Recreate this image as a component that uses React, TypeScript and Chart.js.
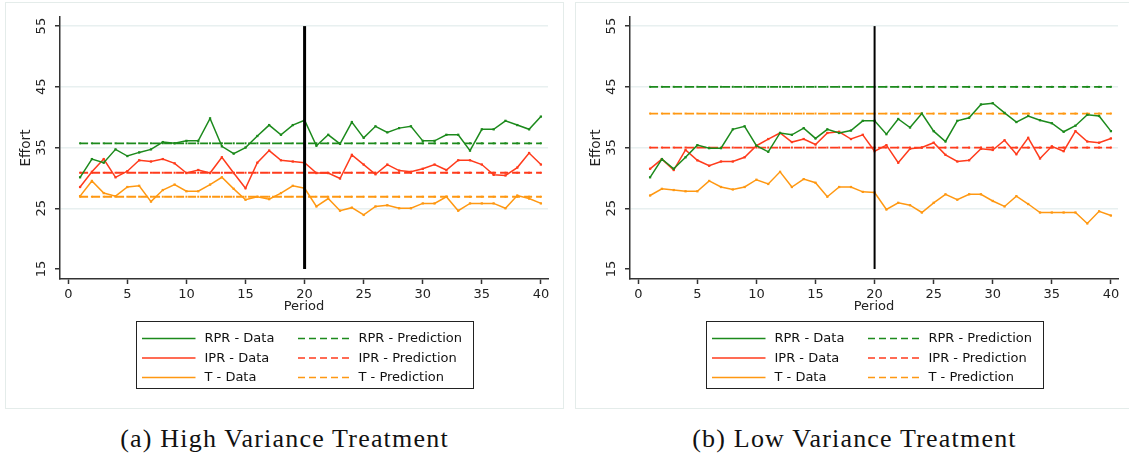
import React, { useEffect, useRef } from 'react';
import { Chart, registerables } from 'chart.js';

Chart.register(...registerables);

// ---------- data ----------
const PERIODS = [1, 2, 3, 4, 5, 6, 7, 8, 9, 10, 11, 12, 13, 14, 15, 16, 17, 18, 19, 20,
  21, 22, 23, 24, 25, 26, 27, 28, 29, 30, 31, 32, 33, 34, 35, 36, 37, 38, 39, 40];

const HIGH_RPR_DATA = [30.1, 33.1, 32.5, 34.7, 33.6, 34.2, 34.7, 35.9, 35.7, 36.1, 36.1, 39.8, 35.2, 34.0, 35.0, 36.9, 38.7, 37.1, 38.7, 39.5,
  35.3, 37.1, 35.6, 39.2, 36.6, 38.5, 37.5, 38.2, 38.5, 36.1, 36.1, 37.1, 37.1, 34.5, 38.0, 38.0, 39.4, 38.7, 38.0, 40.1];
const HIGH_IPR_DATA = [28.5, 31.0, 33.1, 30.1, 31.1, 32.9, 32.7, 33.1, 32.4, 30.8, 31.3, 30.8, 33.4, 30.8, 28.3, 32.5, 34.5, 32.9, 32.7, 32.5,
  30.8, 30.8, 29.9, 33.8, 32.2, 30.6, 32.2, 31.2, 31.0, 31.5, 32.2, 31.3, 32.9, 32.9, 32.2, 30.5, 30.4, 31.7, 34.1, 32.2];
const HIGH_T_DATA = [27.0, 29.5, 27.5, 27.0, 28.5, 28.7, 26.1, 28.0, 28.9, 27.8, 27.8, 28.9, 30.1, 28.2, 26.4, 26.9, 26.5, 27.5, 28.7, 28.3,
  25.3, 26.6, 24.6, 25.1, 23.9, 25.3, 25.5, 25.0, 25.0, 25.8, 25.8, 26.9, 24.6, 25.8, 25.8, 25.8, 25.0, 27.1, 26.6, 25.8];
const HIGH_PRED = [35.7, 30.85, 26.9]; // RPR, IPR, T

const LOW_RPR_DATA = [30.1, 33.1, 31.5, 33.4, 35.4, 34.9, 34.9, 38.0, 38.5, 35.3, 34.3, 37.4, 37.1, 38.2, 36.5, 38.0, 37.4, 37.8, 39.4, 39.4,
  37.2, 39.7, 38.3, 40.6, 37.7, 36.0, 39.4, 39.9, 42.1, 42.3, 40.7, 39.2, 40.2, 39.5, 39.0, 37.6, 38.6, 40.4, 40.2, 37.7];
const LOW_IPR_DATA = [31.5, 33.1, 31.3, 34.6, 32.9, 32.0, 32.7, 32.7, 33.4, 35.3, 36.4, 37.4, 35.9, 36.4, 35.5, 37.4, 37.6, 36.4, 37.1, 34.4,
  35.4, 32.5, 34.8, 35.0, 35.8, 33.8, 32.7, 32.9, 34.8, 34.6, 36.2, 33.9, 36.6, 33.2, 35.2, 34.4, 37.7, 36.0, 35.8, 36.5];
const LOW_T_DATA = [27.1, 28.2, 28.0, 27.8, 27.8, 29.5, 28.5, 28.1, 28.5, 29.7, 29.0, 31.0, 28.5, 29.8, 29.2, 26.9, 28.5, 28.5, 27.7, 27.6,
  24.8, 25.9, 25.5, 24.3, 25.9, 27.3, 26.4, 27.3, 27.3, 26.2, 25.3, 27.0, 25.7, 24.3, 24.3, 24.3, 24.3, 22.5, 24.5, 23.8];
const LOW_PRED = [45.0, 35.0, 40.6]; // RPR, IPR, T

const Y_TICKS = [15, 25, 35, 45, 55];
const X_TICKS = [0, 5, 10, 15, 20, 25, 30, 35, 40];
const BREAK_PERIOD = 20;
const BREAK_RANGE = [15, 55];

const GROUPS = ['RPR', 'IPR', 'T'];
const DATA_SUFFIX = ' - Data';
const PRED_SUFFIX = ' - Prediction';
const CAPTIONS = ['(a) High Variance Treatment', '(b) Low Variance Treatment'];
const X_TITLE = 'Period';
const Y_TITLE = 'Effort';

// ---------- styles ----------
const COLORS = ['#1c8a1c', '#ff3b1c', '#ff9812'];
const SANS = '"DejaVu Sans", sans-serif';
const CANVAS_W = 557;
const CANVAS_H = 405;

const decorPlugin = {
  id: 'decor',
  afterDraw(chart: any) {
    const ctx = chart.ctx;
    const ys = chart.scales.y;
    const area = chart.chartArea;
    ctx.save();
    // rotated y tick labels
    ctx.fillStyle = '#222';
    ctx.font = '13px ' + SANS;
    ctx.textAlign = 'center';
    ctx.textBaseline = 'middle';
    for (const v of Y_TICKS) {
      const py = ys.getPixelForValue(v);
      ctx.save();
      ctx.translate(36, py);
      ctx.rotate(-Math.PI / 2);
      ctx.fillText(String(v), 0, 0);
      ctx.restore();
    }
    // legend box
    const bw = 337;
    const bh = 67;
    const cx = (area.left + area.right) / 2;
    const bx = Math.round(cx - bw / 2) + 0.5;
    const by = 318.5;
    ctx.strokeStyle = '#222';
    ctx.lineWidth = 1;
    ctx.strokeRect(bx, by, bw, bh);
    ctx.font = '13px ' + SANS;
    ctx.textAlign = 'left';
    ctx.fillStyle = '#111';
    const rowY = [by + 17, by + 36.5, by + 56];
    GROUPS.forEach((g, i) => {
      const y = rowY[i];
      ctx.strokeStyle = COLORS[i];
      ctx.lineWidth = 1.5;
      ctx.setLineDash([]);
      ctx.beginPath();
      ctx.moveTo(bx + 5.5, y);
      ctx.lineTo(bx + 59, y);
      ctx.stroke();
      ctx.fillText(g + DATA_SUFFIX, bx + 68, y + 0.5);
      ctx.setLineDash([7, 4]);
      ctx.beginPath();
      ctx.moveTo(bx + 161.5, y);
      ctx.lineTo(bx + 214, y);
      ctx.stroke();
      ctx.setLineDash([]);
      ctx.fillText(g + PRED_SUFFIX, bx + 222, y + 0.5);
    });
    ctx.restore();
  },
};

function buildConfig(data: number[][], pred: number[], breakWidth: number): any {
  const datasets: any[] = [];
  datasets.push({
    label: 'break',
    data: BREAK_RANGE.map((v) => ({ x: BREAK_PERIOD, y: v })),
    borderColor: '#000',
    borderWidth: breakWidth,
    pointRadius: 0,
    order: 0,
  });
  GROUPS.forEach((g, i) => {
    datasets.push({
      label: g + DATA_SUFFIX,
      data: PERIODS.map((p, k) => ({ x: p, y: data[i][k] })),
      borderColor: COLORS[i],
      backgroundColor: COLORS[i],
      borderWidth: 1.5,
      pointStyle: 'rect',
      pointRadius: 1.6,
      pointBorderWidth: 0,
      order: 1,
    });
    datasets.push({
      label: g + PRED_SUFFIX,
      data: PERIODS.map((p) => ({ x: p, y: pred[i] })),
      borderColor: COLORS[i],
      backgroundColor: COLORS[i],
      borderWidth: 1.8,
      borderDash: [8, 4],
      pointStyle: 'rect',
      pointRadius: 1.4,
      pointBorderWidth: 0,
      order: 2,
    });
  });
  return {
    type: 'line',
    data: { datasets },
    plugins: [decorPlugin],
    options: {
      animation: false,
      responsive: false,
      devicePixelRatio: 1,
      events: [],
      layout: { padding: { left: 0, top: 14, right: 15, bottom: 89 } },
      plugins: { legend: { display: false }, tooltip: { enabled: false } },
      scales: {
        x: {
          type: 'linear',
          min: -0.7,
          max: 40.6,
          afterBuildTicks: (axis: any) => {
            axis.ticks = X_TICKS.map((v) => ({ value: v }));
          },
          afterFit: (scale: any) => {
            scale.height = 40;
          },
          grid: { drawOnChartArea: false, drawTicks: true, tickLength: 5, tickColor: '#333', tickWidth: 1.5 },
          border: { display: true, color: '#333', width: 1.5 },
          ticks: { color: '#222', font: { family: SANS, size: 13 }, padding: 3, maxRotation: 0, autoSkip: false },
          title: { display: true, text: X_TITLE, color: '#222', font: { family: SANS, size: 13 }, padding: { top: 0, bottom: 5 } },
        },
        y: {
          type: 'linear',
          min: 13.35,
          max: 56.5,
          afterBuildTicks: (axis: any) => {
            axis.ticks = Y_TICKS.map((v) => ({ value: v }));
          },
          afterFit: (scale: any) => {
            scale.width = 54;
          },
          grid: {
            color: (c: any) => (c.tick && c.tick.value === 15 ? 'rgba(0,0,0,0)' : '#e8f0f0'),
            lineWidth: 1.5,
            drawTicks: true,
            tickLength: 5,
            tickColor: '#333',
            tickWidth: 1.5,
          },
          border: { display: true, color: '#333', width: 1.5 },
          ticks: { display: false },
          title: { display: true, text: Y_TITLE, color: '#222', font: { family: SANS, size: 13.5 }, padding: { top: 12, bottom: 0 } },
        },
      },
    },
  };
}

function Panel(props: { data: number[][]; pred: number[]; breakWidth: number; left: number; caption: string }) {
  const ref = useRef<HTMLCanvasElement | null>(null);
  useEffect(() => {
    if (!ref.current) return;
    const chart = new Chart(ref.current, buildConfig(props.data, props.pred, props.breakWidth));
    return () => chart.destroy();
  }, []);
  return (
    <>
      <div
        style={{
          position: 'absolute',
          left: props.left,
          top: 2,
          width: CANVAS_W + 2,
          height: CANVAS_H + 2,
          border: '1px solid #e4ecea',
          boxSizing: 'border-box',
          background: '#fff',
        }}
      >
        <canvas ref={ref} width={CANVAS_W} height={CANVAS_H} style={{ display: 'block', width: CANVAS_W, height: CANVAS_H }} />
      </div>
      <div
        style={{
          position: 'absolute',
          left: props.left,
          top: 424,
          width: CANVAS_W + 2,
          textAlign: 'center',
          fontFamily: '"Liberation Serif", serif',
          fontSize: 26,
          lineHeight: '30px',
          letterSpacing: 1.2,
          color: '#111',
          whiteSpace: 'nowrap',
        }}
      >
        {props.caption}
      </div>
    </>
  );
}

export default function App() {
  return (
    <div style={{ position: 'fixed', left: 0, top: 0, width: 1129, height: 454, overflow: 'hidden', background: '#fff' }}>
      <Panel data={[HIGH_RPR_DATA, HIGH_IPR_DATA, HIGH_T_DATA]} pred={HIGH_PRED} breakWidth={3} left={5} caption={CAPTIONS[0]} />
      <Panel data={[LOW_RPR_DATA, LOW_IPR_DATA, LOW_T_DATA]} pred={LOW_PRED} breakWidth={2} left={575} caption={CAPTIONS[1]} />
    </div>
  );
}
